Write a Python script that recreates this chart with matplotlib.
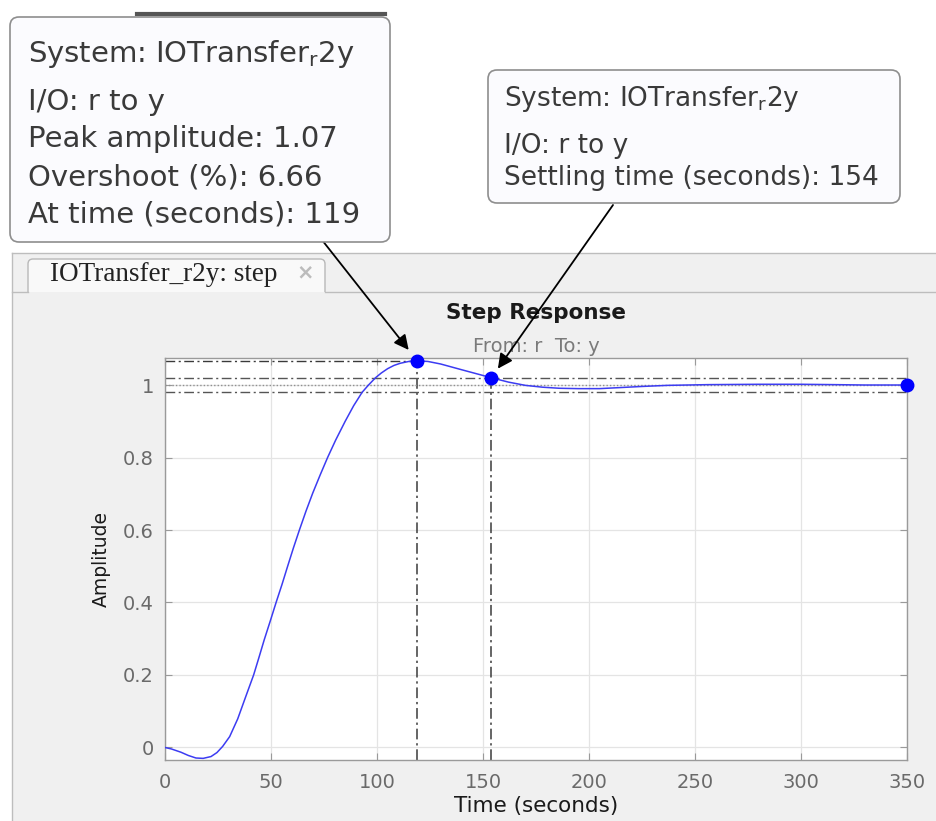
import matplotlib
matplotlib.use('Agg')
import matplotlib.pyplot as plt
from matplotlib.patches import FancyBboxPatch, Rectangle
from matplotlib.lines import Line2D

# ---------------- data ----------------
time_s = [0, 3, 7.5, 11, 14.6, 18, 21.7, 24.5, 27.2, 30.5, 34.3, 38, 41.8, 44.3,
          46.8, 49.6, 52.4, 55.2, 57.9, 60.6, 63.4, 66.5, 69.7, 73.2, 76.7, 80.5,
          85, 89, 93, 96, 99.3, 102, 105, 108, 111, 115, 119, 124, 130, 135, 140,
          147, 154, 162, 170, 178, 186, 195, 205, 215, 225, 237, 256, 280, 300,
          316, 330, 350]
amplitude = [0, -0.004, -0.013, -0.022, -0.029, -0.030, -0.025, -0.014, 0.003,
             0.030, 0.079, 0.139, 0.2, 0.248, 0.297, 0.348, 0.4, 0.45, 0.501,
             0.551, 0.6, 0.652, 0.702, 0.752, 0.8, 0.848, 0.9, 0.943, 0.98, 1.0,
             1.02, 1.033, 1.045, 1.054, 1.06, 1.065, 1.0666, 1.065, 1.058, 1.05,
             1.042, 1.031, 1.02, 1.008, 0.999, 0.994, 0.991, 0.990, 0.990, 0.993,
             0.996, 0.999, 1.001, 1.002, 1.002, 1.001, 1.0, 1.0]

peak_time = 119
peak_amplitude = 1.0666
overshoot_pct = 6.66
settling_time = 154
settling_amplitude = 1.02
final_value = 1.0
settle_band = 0.02
end_time = 350

x_ticks = [0, 50, 100, 150, 200, 250, 300, 350]
y_ticks = [0, 0.2, 0.4, 0.6, 0.8, 1.0]
y_tick_labels = ['0', '0.2', '0.4', '0.6', '0.8', '1']
y_limits = (-0.0345, 1.0745)

system_name = r'IOTransfer$_\mathrm{r}$2y'
tab_label = 'IOTransfer_r2y: step'

# ---------------- figure ----------------
W, H = 936, 821
fig = plt.figure(figsize=(W / 100, H / 100), dpi=100)
fig.patch.set_facecolor('white')
T = fig.dpi_scale_trans


def px(x, y):
    """pixel position measured from top-left -> inches from bottom-left"""
    return x / 100, (H - y) / 100


# window chrome
fig.add_artist(Rectangle(px(12, H), (W - 12) / 100, (H - 253) / 100, transform=T,
                         facecolor='#f0f0f0', edgecolor='none', zorder=-5))
fig.add_artist(FancyBboxPatch(px(28, 300), (325 - 28) / 100, (300 - 259) / 100,
                              boxstyle='round,pad=0,rounding_size=0.05', transform=T,
                              facecolor='#f9f9f9', edgecolor='#b8b8b8', lw=1, zorder=-4))
fig.add_artist(Rectangle(px(12, H), (W - 12) / 100, (H - 292) / 100, transform=T,
                         facecolor='#f0f0f0', edgecolor='none', zorder=-3))
for (x0, y0, x1, y1) in [(12, 253, W, 253), (12, 253, 12, H), (325, 292, W, 292),
                         (12, 292, 28, 292)]:
    a, b = px(x0, y0)
    c, d = px(x1, y1)
    fig.add_artist(Line2D([a, c], [b, d], transform=T, color='#bdbdbd', lw=1, zorder=-2))

fig.text(*px(50, 274), tab_label, transform=T, family='Liberation Serif', fontsize=19.5,
         color='#222222', ha='left', va='center', zorder=-1)
fig.text(*px(305, 272), '\u00d7', transform=T, fontsize=15, fontweight='bold',
         color='#bcbcbc', ha='center', va='center', zorder=-1)

# ---------------- axes ----------------
ax = fig.add_axes([165 / W, 1 - 760 / H, (907 - 165) / W, (760 - 358) / H])
ax.set_facecolor('white')
ax.set_xlim(0, end_time)
ax.set_ylim(*y_limits)
ax.set_xticks(x_ticks)
ax.set_yticks(y_ticks)
ax.set_yticklabels(y_tick_labels)
ax.tick_params(direction='in', length=5, color='#9a9a9a', labelcolor='#6a6a6a',
               labelsize=14, top=True, right=True, labeltop=False, labelright=False)
ax.tick_params(axis='x', pad=9)
ax.tick_params(axis='y', pad=8)
for s in ax.spines.values():
    s.set_color('#9a9a9a')
    s.set_linewidth(1)
ax.grid(True, color='#e4e4e4', lw=0.9)
ax.set_axisbelow(True)

dashdot = (0, (7, 2.5, 1.5, 2.5))
char_col = '#3a3a3a'
ax.plot([0, peak_time], [peak_amplitude, peak_amplitude], ls=dashdot, color=char_col, lw=1, zorder=2)
ax.plot([peak_time, peak_time], [y_limits[0], peak_amplitude], ls=dashdot, color=char_col, lw=1.1, zorder=2)
ax.plot([settling_time, settling_time], [y_limits[0], settling_amplitude], ls=dashdot, color=char_col, lw=1.1, zorder=2)
ax.axhline(final_value + settle_band, ls=dashdot, color='#555555', lw=1, zorder=2)
ax.axhline(final_value - settle_band, ls=dashdot, color='#555555', lw=1, zorder=2)
ax.axhline(final_value, ls=(0, (1, 1.5)), color='#909090', lw=1, zorder=2)

ax.plot(time_s, amplitude, color='#3c3cf2', lw=1.1, zorder=3)

for (mx, my) in [(peak_time, peak_amplitude), (settling_time, settling_amplitude), (end_time, final_value)]:
    ax.plot([mx], [my], 'o', color='#0000ff', ms=9, clip_on=False, zorder=4)

ax.text(0.5, (760 - 313) / 402, 'Step Response', transform=ax.transAxes, ha='center',
        va='center', fontsize=15.5, fontweight='bold', color='#1a1a1a')
ax.text(0.5, (760 - 347) / 402, 'From: r  To: y', transform=ax.transAxes, ha='center',
        va='center', fontsize=14, color='#7a7a7a')
ax.set_xlabel('Time (seconds)', fontsize=15.5, color='#1a1a1a')
ax.xaxis.set_label_coords(0.5, (760 - 806) / 402)
ax.xaxis.label.set_va('center')
ax.set_ylabel('Amplitude', fontsize=13.5, color='#1a1a1a')
ax.yaxis.set_label_coords((101 - 165) / 742, 0.5)
ax.yaxis.label.set_va('center')

# ---------------- data tips ----------------
tip_face = '#fbfbfe'
tip_edge = '#8e8e8e'
tip_text = '#3a3a3a'

fig.add_artist(Line2D([1.37, 3.85], [px(0, 14)[1]] * 2, transform=T, color='#555555', lw=3, zorder=4))
fig.add_artist(FancyBboxPatch(px(10, 242), (390 - 10) / 100, (242 - 17) / 100,
                              boxstyle='round,pad=0,rounding_size=0.09', transform=T,
                              facecolor=tip_face, edgecolor=tip_edge, lw=1.2, zorder=5))
lines1 = ['System: ' + system_name, 'I/O: r to y',
          f'Peak amplitude: {peak_amplitude:.3g}',
          f'Overshoot (%): {overshoot_pct}',
          f'At time (seconds): {peak_time}']
for txt, yb in zip(lines1, [62, 110, 147, 185, 222]):
    fig.text(*px(28, yb), txt, transform=T, fontsize=21, color=tip_text,
             ha='left', va='baseline', zorder=6)

fig.add_artist(FancyBboxPatch(px(488, 203), (900 - 488) / 100, (203 - 70) / 100,
                              boxstyle='round,pad=0,rounding_size=0.09', transform=T,
                              facecolor=tip_face, edgecolor=tip_edge, lw=1.2, zorder=5))
lines2 = ['System: ' + system_name, 'I/O: r to y',
          f'Settling time (seconds): {settling_time}']
for txt, yb in zip(lines2, [106, 153, 185]):
    fig.text(*px(504, yb), txt, transform=T, fontsize=19, color=tip_text,
             ha='left', va='baseline', zorder=6)

# arrows from the tips to the markers
arrow_kw = dict(arrowstyle='-|>', color='black', lw=1.3, mutation_scale=22,
                shrinkA=0, shrinkB=10)
ax.annotate('', xy=(peak_time, peak_amplitude), xycoords='data',
            xytext=(322, H - 240), textcoords='figure pixels',
            arrowprops=arrow_kw, annotation_clip=False)
ax.annotate('', xy=(settling_time, settling_amplitude), xycoords='data',
            xytext=(613, H - 205), textcoords='figure pixels',
            arrowprops=dict(arrow_kw, shrinkB=8), annotation_clip=False)

fig.savefig('out.png', dpi=100, facecolor=fig.get_facecolor())
